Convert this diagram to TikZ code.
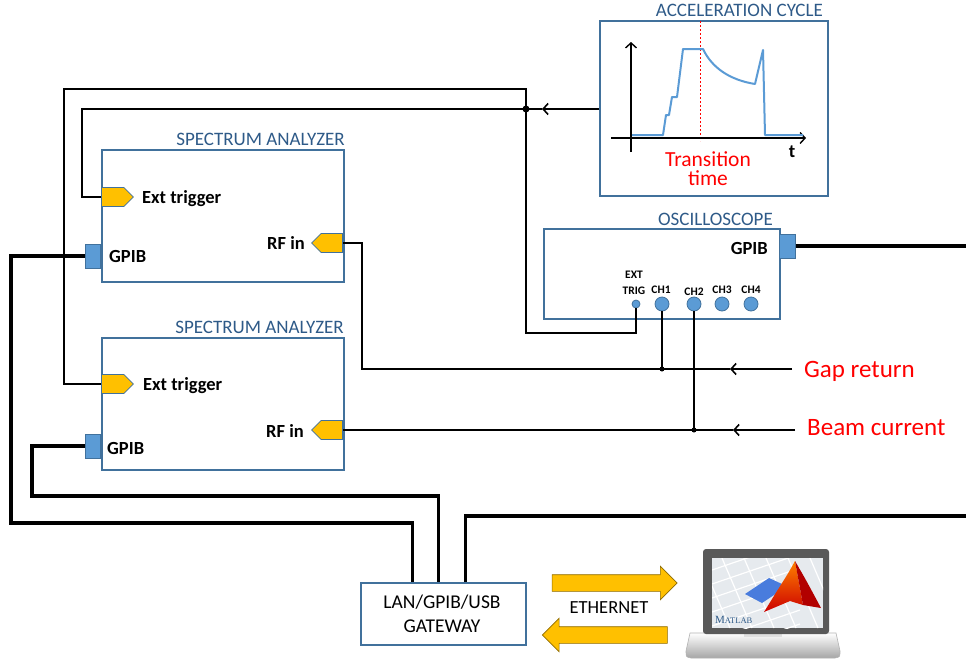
\documentclass[tikz,border=0pt]{standalone}
\usepackage{fontspec}
\setmainfont{Carlito}
\newfontfamily\logofont{Liberation Serif}
\usetikzlibrary{shapes.symbols,shapes.arrows,arrows.meta,positioning}

\definecolor{frameblue}{HTML}{41719C}
\definecolor{titleblue}{HTML}{2E5A88}
\definecolor{portyellow}{HTML}{FFC000}
\definecolor{portblue}{HTML}{5B9BD5}
\definecolor{screenbg}{HTML}{E6EAEE}

\begin{document}
\begin{tikzpicture}[x=1pt, y=-1pt,
    unit/.style={draw=frameblue, line width=1.8pt, anchor=north west, inner sep=0pt},
    unittitle/.style={text=titleblue, font=\fontsize{19}{19}\selectfont, anchor=base east, inner sep=0pt},
    trig/.style={shape=signal, signal to=east, fill=portyellow, draw=frameblue, line width=0.8pt,
                 minimum width=32pt, minimum height=19pt, inner sep=0pt},
    rfport/.style={trig, signal to=west, minimum width=31pt},
    gpib/.style={fill=portblue, draw=frameblue, line width=0.8pt, minimum width=15pt,
                 minimum height=24pt, inner sep=0pt},
    lbl/.style={font=\fontsize{18.5}{18.5}\bfseries\selectfont, inner sep=0pt},
    small/.style={font=\fontsize{11.5}{11.5}\bfseries\selectfont, inner sep=0pt, anchor=base},
    plain/.style={font=\fontsize{19.5}{19.5}\selectfont, inner sep=0pt, anchor=base},
    chan/.style={circle, fill=portblue, draw=frameblue, line width=0.8pt, minimum size=14pt, inner sep=0pt},
    sig/.style={text=red, font=\fontsize{25}{25}\selectfont, anchor=base west, inner sep=0pt},
    wire/.style={line width=1.6pt},
    bus/.style={line width=3.5pt},
    barb/.style={-{Straight Barb[length=5pt,width=11pt,line width=1.6pt]}},
    dot/.style={circle, fill=black, minimum size=7pt, inner sep=0pt},
    eth/.style={single arrow, fill=portyellow, draw=black!45!portyellow, line width=0.6pt,
                minimum height=125pt, inner sep=8pt, single arrow head extend=8.5pt}]
    \useasboundingbox (0,0) rectangle (966,664);

    % Acceleration cycle
    \node[unit, minimum width=228pt, minimum height=175pt] (accel) at (599,20) {};
    \node[unittitle] (acceltitle) at (823,16) {ACCELERATION CYCLE};
    \draw[red, line width=0.8pt, dash pattern=on 2pt off 2pt] (700,21) -- (700,141);
    \draw[line width=1.4pt, -{Straight Barb[length=5pt,width=11pt]}] (631,152) -- (631,42);
    \draw[line width=1.4pt, -{Straight Barb[length=5pt,width=11pt]}] (611,138) -- (806,138);
    \node[lbl] (taxis) at (792,152) {t};
    \draw[portblue, line width=2pt, line join=round]
        (632,135) -- (663,135) -- (666,115) -- (669,115) -- (672,97) -- (677,97) -- (683,49)
        -- (703,49) .. controls (712,68) and (730,80) .. (755,84) -- (763,50) -- (765,135) -- (803,135);
    \node[text=red, font=\fontsize{21.5}{19.5}\selectfont, align=center, inner sep=0pt, anchor=north]
        (trans) at (708,151) {Transition\\time};

    % Spectrum analyzers
    \node[unit, minimum width=242pt, minimum height=132pt] (sa1) at (101,149) {};
    \node[unittitle] (sa1title) at (345,145) {SPECTRUM ANALYZER};
    \node[trig, anchor=west] (sa1trig) at (101,197) {};
    \node[lbl, anchor=base west] at (142,203) {Ext trigger};
    \node[rfport, anchor=east] (sa1rf) at (343,243) {};
    \node[lbl, anchor=base east] at (305,249) {RF in};
    \node[gpib, anchor=east] (sa1gpib) at (101,256) {};
    \node[lbl, anchor=base west] at (109,262) {GPIB};

    \node[unit, minimum width=242pt, minimum height=132pt] (sa2) at (101,337) {};
    \node[unittitle] (sa2title) at (344,333) {SPECTRUM ANALYZER};
    \node[trig, anchor=west] (sa2trig) at (101,384) {};
    \node[lbl, anchor=base west] at (143,390) {Ext trigger};
    \node[rfport, anchor=east] (sa2rf) at (343,430) {};
    \node[lbl, anchor=base east] at (304,437) {RF in};
    \node[gpib, anchor=east] (sa2gpib) at (101,446) {};
    \node[lbl, anchor=base west] at (107,454) {GPIB};

    % Oscilloscope
    \node[unit, minimum width=236pt, minimum height=90pt] (osc) at (543,228) {};
    \node[unittitle] (osctitle) at (773,225) {OSCILLOSCOPE};
    \node[gpib, anchor=west, minimum width=16pt] (oscgpib) at (779,246) {};
    \node[lbl, anchor=base east] at (768,254) {GPIB};
    \node[chan, minimum size=8pt] (exttrig) at (636,304) {};
    \node[chan] (ch1) at (662,304) {};
    \node[chan] (ch2) at (694,304) {};
    \node[chan] (ch3) at (722,304) {};
    \node[chan] (ch4) at (751,304) {};
    \node[small] at (634,278) {EXT};
    \node[small] at (634,294) {TRIG};
    \node[small] at (661,293) {CH1};
    \node[small] at (694,295) {CH2};
    \node[small] at (722,293) {CH3};
    \node[small] at (751,293) {CH4};

    % Gateway
    \node[unit, minimum width=165pt, minimum height=62pt] (gw) at (360,582) {};
    \node[plain] at (442,608) {LAN/GPIB/USB};
    \node[plain] at (442,632) {GATEWAY};

    % Trigger lines
    \coordinate (trigjoin) at (526,109);
    \coordinate (trigarrow) at (542,109);
    \draw[wire, barb] (accel.west |- trigjoin) -- (trigarrow);
    \draw[wire] (trigarrow) -- (trigjoin) -- (82,109) |- (sa1trig.west);
    \draw[wire] (trigjoin) |- (64,89) |- (sa2trig.west);
    \draw[wire] (trigjoin) -- (526,333) -| (exttrig.south);
    \node[dot] at (trigjoin) {};

    % Gap return and beam current
    \node[sig] (gaplbl) at (804,377) {Gap return};
    \node[sig] (beamlbl) at (807,435) {Beam current};
    \coordinate (gapsrc) at (792,369);
    \coordinate (gaparrow) at (730,369);
    \coordinate (beamsrc) at (795,430);
    \coordinate (beamarrow) at (733,430);
    \draw[wire, barb] (gapsrc) -- (gaparrow);
    \draw[wire] (gaparrow) -- (362,369) |- (sa1rf.east);
    \draw[wire, barb] (beamsrc) -- (beamarrow);
    \draw[wire] (beamarrow) -- (sa2rf.east);
    \draw[wire] (ch1.south) -- (ch1 |- gapsrc) node[dot, minimum size=5pt] {};
    \draw[wire] (ch2.south) -- (ch2 |- beamsrc) node[dot, minimum size=5pt] {};

    % GPIB bus
    \coordinate (busout) at (966,246);
    \coordinate (busin) at (966,516);
    \draw[bus] (sa1gpib.west) -| (11,523) -| ([xshift=-31pt]gw.north);
    \draw[bus] (sa2gpib.west) -| (32,496) -| ([xshift=-5pt]gw.north);
    \draw[bus] (oscgpib.east) -- (busout);
    \draw[bus] (busin) -| ([xshift=22pt]gw.north);

    % Ethernet link
    \node[eth] (ethtx) at (610.5,583) {};
    \node[eth, shape border rotate=180] (ethrx) at (609,635) {};
    \node[plain, font=\fontsize{18.5}{18.5}\selectfont] (ethlbl) at (609,613) {ETHERNET};

    % Laptop
    \shade[top color=white, bottom color=black!35, draw=black!30, line width=0.6pt]
        (690,633) -- (836,633) -- (840,651) .. controls (840,657) .. (835,658)
        -- (691,658) .. controls (686,657) .. (686,651) -- cycle;
    \fill[black!12] (744,633) rectangle (782,637);
    \fill[black!65, rounded corners=3pt] (703,549) rectangle (829,634);
    \fill[screenbg] (712,558) rectangle (823,628);
    \begin{scope}
        \clip (712,558) rectangle (823,628);
        \foreach \k in {0,...,6}
            \draw[white, line width=1.2pt] (712,570+\k*14) -- (800,540+\k*14);
        \foreach \k in {0,...,6}
            \draw[white, line width=1.2pt] (700+\k*22,558) -- (730+\k*22,628);
    \end{scope}
    \fill[portblue!80!blue] (745,594) -- (769,578) -- (782,584) -- (777,593) -- (762,603) -- cycle;
    \shade[top color=orange, bottom color=red!80!black]
        (795,561) .. controls (789,572) .. (777,591) -- (764,612) -- (790,601) -- (803,605) -- cycle;
    \fill[red!70!black] (795,561) .. controls (806,580) .. (821,608) -- (803,605) -- cycle;
    \node[text=titleblue, inner sep=0pt, anchor=base west] (logo) at (715,623)
        {\logofont\fontsize{11}{11}\selectfont M\fontsize{8.5}{8.5}\selectfont ATLAB};
\end{tikzpicture}
\end{document}
